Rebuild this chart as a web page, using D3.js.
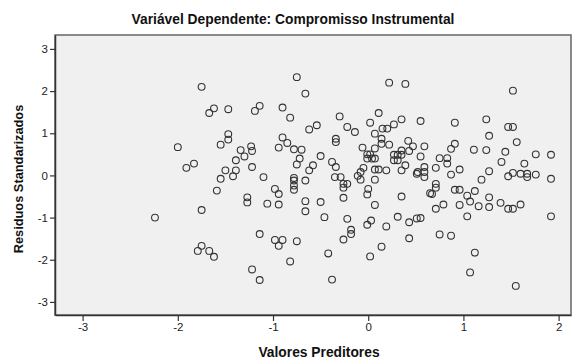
<html>
<head>
<meta charset="utf-8">
<script src="https://d3js.org/d3.v7.min.js"></script>
<style>
  body { margin: 0; background: #fff; }
  text { font-family: "Liberation Sans", Arial, sans-serif; }
</style>
</head>
<body>
<div id="chart"></div>
<script>
// valores preditores (x) e residuos standarizados (y)
const predicted = [
  -2.24, -2.00, -1.75, -1.67, -1.62, -1.47, -1.19, -1.14, -0.90, -0.82,
  -0.75, -1.91, -1.83, -1.55, -1.47, -1.47, -1.34, -1.30, -1.39, -1.23,
  -1.22, -1.22, -1.50, -1.39, -1.42, -1.55, -1.10, -0.94, -0.90, -0.85,
  -0.78, -0.75, -0.72, -0.78, -1.59, -1.27, -1.27, -0.98, -0.94, -1.06,
  -0.94, -0.78, -0.78, -0.78, -1.75, -1.14, -0.98, -0.90, -0.94, -0.75,
  -0.82, -1.75, -1.79, -1.67, -1.62, -1.22, -1.14, -0.66, -0.62, -0.54,
  -0.30, -0.22, -0.14, 0.22, 0.39, 0.11, 0.02, 0.07, 0.15, 0.20,
  0.27, 0.35, 0.55, -0.70, -0.58, -0.62, -0.50, -0.38, -0.34, -0.34,
  -0.34, -0.35, -0.29, -0.06, -0.01, 0.02, -0.01, 0.04, 0.07, 0.07,
  0.14, 0.14, 0.22, -0.05, -0.08, -0.11, -0.08, 0.07, 0.11, 0.19,
  0.27, 0.31, 0.27, 0.31, 0.35, 0.42, 0.47, 0.43, 0.59, 0.55,
  0.52, 0.59, 0.59, 0.35, 0.39, -0.66, -0.26, -0.22, -0.26, -0.26,
  0.07, 0.00, -0.01, 0.51, 0.59, 0.35, -0.66, -0.66, -0.50, -0.46,
  -0.22, -0.18, -0.18, -0.26, 0.07, -0.01, 0.03, 0.19, 0.31, 0.43,
  0.51, 0.43, 0.14, 0.02, -0.42, -0.38, 0.65, 1.52, 0.91, 1.24,
  1.47, 1.52, 1.27, 1.56, 0.91, 0.87, 1.11, 1.24, 1.44, 1.76,
  1.92, 0.75, 0.83, 0.83, 1.40, 1.64, 0.71, 0.96, 0.87, 1.27,
  1.19, 1.47, 1.52, 1.60, 1.67, 1.67, 1.76, 1.92, 0.71, 0.71,
  0.67, 0.55, 0.71, 0.79, 0.91, 0.96, 1.04, 1.12, 1.07, 0.96,
  1.16, 1.27, 1.27, 1.04, 1.39, 1.47, 1.52, 1.60, 1.92, 0.75,
  0.87, 1.12, 1.07, 1.55, 0.35
];
const residuals = [
  -1.00, 0.67, 2.10, 1.48, 1.59, 1.57, 1.53, 1.65, 1.61, 1.37,
  2.33, 0.18, 0.28, 0.73, 0.98, 0.85, 0.60, 0.45, 0.36, 0.69,
  0.58, 0.20, 0.12, 0.12, -0.02, -0.08, -0.04, 0.66, 0.90, 0.77,
  0.62, 0.26, 0.40, -0.06, -0.36, -0.52, -0.64, -0.32, -0.44, -0.67,
  -0.69, -0.12, -0.24, -0.34, -0.82, -1.39, -1.53, -1.53, -1.67, -1.56,
  -2.04, -1.67, -1.79, -1.79, -1.93, -2.23, -2.48, 1.94, 1.09, 1.19,
  1.40, 1.15, 1.03, 2.20, 2.17, 1.48, 1.25, 0.99, 1.11, 1.11,
  1.21, 1.33, 1.29, 0.61, 0.24, 0.12, 0.46, 0.32, 0.20, 0.87,
  0.79, -0.04, -0.04, 0.66, 0.50, 0.50, 0.40, 0.40, 0.40, 0.64,
  0.87, 0.75, 0.73, 0.18, 0.08, -0.01, -0.10, 0.14, 0.14, 0.12,
  0.49, 0.49, 0.36, 0.36, 0.59, 0.82, 0.69, 0.58, 0.69, 0.45,
  0.08, 0.20, 0.08, 0.12, 0.24, -0.12, -0.20, -0.20, -0.29, -0.53,
  -0.10, -0.32, -0.45, 0.04, -0.04, -0.50, -0.61, -0.85, -0.63, -0.99,
  -1.03, -1.29, -1.39, -1.52, -0.70, -1.17, -1.07, -1.21, -0.98, -1.11,
  -1.02, -1.49, -1.69, -1.92, -1.85, -2.47, -0.42, 2.01, 1.25, 1.33,
  1.15, 1.15, 0.94, 0.79, 0.75, 0.63, 0.61, 0.60, 0.56, 0.50,
  0.49, 0.41, 0.41, 0.28, 0.32, 0.28, 0.18, 0.14, 0.02, 0.10,
  -0.10, -0.02, 0.06, 0.04, 0.04, -0.04, 0.02, -0.08, -0.20, -0.29,
  -0.44, -1.01, -0.79, -0.69, -0.34, -0.34, -0.48, -0.37, -0.62, -0.70,
  -0.73, -0.75, -0.52, -0.97, -0.65, -0.79, -0.79, -0.69, -0.97, -1.40,
  -1.43, -1.83, -2.30, -2.62, 0.49
];
const xTicks = [-3, -2, -1, 0, 1, 2];
const yTicks = [-3, -2, -1, 0, 1, 2, 3];

const w = 582, h = 361;
const plotL = 55, plotR = 571, plotT = 35, plotB = 315;

const svg = d3.select('#chart').append('svg')
  .attr('width', w)
  .attr('height', h);

const xScale = d3.scaleLinear().domain([-3.29, 2.13]).range([plotL, plotR]);
const yScale = d3.scaleLinear().domain([-3.31, 3.33]).range([plotB, plotT]);

// fundo do grafico
svg.append('rect')
  .attr('x', plotL).attr('y', plotT)
  .attr('width', plotR - plotL).attr('height', plotB - plotT)
  .attr('fill', '#f0f0f0')
  .attr('stroke', '#666')
  .attr('stroke-width', 1.5);

// pontos
svg.append('g')
  .selectAll('circle')
  .data(predicted.map((d, i) => [d, residuals[i]]))
  .enter()
  .append('circle')
  .attr('cx', d => xScale(d[0]))
  .attr('cy', d => yScale(d[1]))
  .attr('r', 3.4)
  .attr('fill', 'none')
  .attr('stroke', '#333')
  .attr('stroke-width', 1.1);

const fmt = d => String(d);   // hifen normal, sem casas decimais
const xAxis = d3.axisBottom(xScale).tickValues(xTicks).tickFormat(fmt).tickSizeInner(6).tickSizeOuter(0).tickPadding(2);
const yAxis = d3.axisLeft(yScale).tickValues(yTicks).tickFormat(fmt).tickSizeInner(5).tickSizeOuter(0).tickPadding(2);

const gx = svg.append('g')
  .attr('transform', 'translate(0,' + plotB + ')')
  .call(xAxis);
const gy = svg.append('g')
  .attr('transform', 'translate(' + plotL + ',0)')
  .call(yAxis);

[gx, gy].forEach(g => {
  g.select('.domain').attr('stroke', '#333').attr('stroke-width', 1.5);
  g.selectAll('.tick line').attr('stroke', '#333').attr('stroke-width', 1.2);
  g.selectAll('.tick text')
    .attr('font-size', 11.5)
    .attr('fill', '#222')
    .attr('font-family', '"Liberation Sans", Arial, sans-serif');
});

svg.append('text')
  .attr('x', 293).attr('y', 24)
  .attr('text-anchor', 'middle')
  .attr('font-size', 13.8).attr('font-weight', 'bold')
  .attr('fill', '#111')
  .text('Variável Dependente: Compromisso Instrumental');

svg.append('text')
  .attr('x', 319).attr('y', 357)
  .attr('text-anchor', 'middle')
  .attr('font-size', 13.8).attr('font-weight', 'bold')
  .attr('fill', '#111')
  .text('Valores Preditores');

svg.append('text')
  .attr('transform', 'translate(23,179) rotate(-90)')
  .attr('text-anchor', 'middle')
  .attr('font-size', 12.8).attr('font-weight', 'bold')
  .attr('fill', '#111')
  .text('Residuos Standarizados');
</script>
</body>
</html>
